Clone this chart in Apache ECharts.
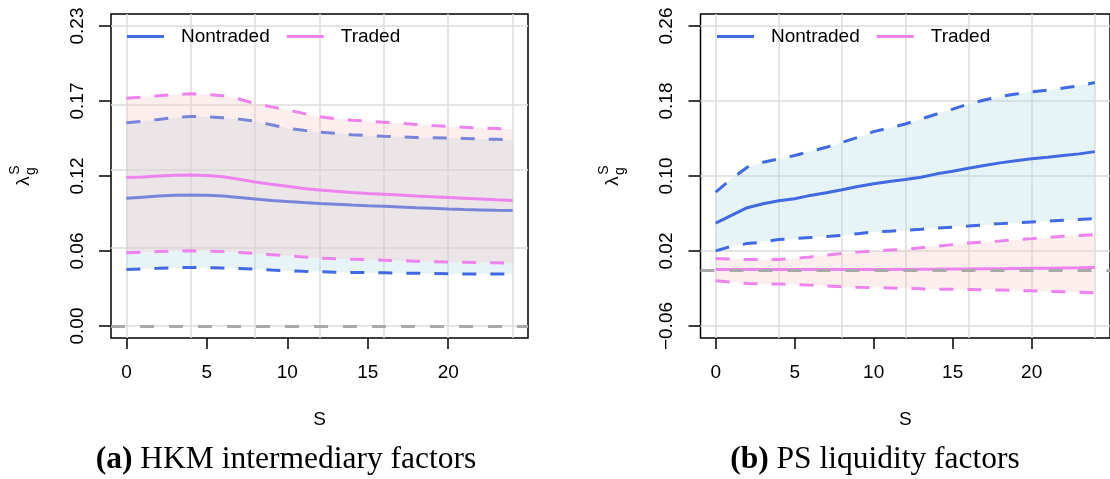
<!DOCTYPE html>
<html>
<head>
<meta charset="utf-8">
<title>lambda_g^S by horizon</title>
<script src="https://cdn.jsdelivr.net/npm/echarts@6.0.0/dist/echarts.min.js"></script>
<style>
  html, body { margin: 0; padding: 0; background: #fff; }
  #main { width: 1110px; height: 479px; }
</style>
</head>
<body>
<div id="main"></div>
<script>
// horizon S
var horizon = [0, 1, 2, 3, 4, 5, 6, 7, 8, 9, 10, 11, 12, 13, 14, 15, 16, 17, 18, 19, 20, 21, 22, 23, 24];

// (a) HKM intermediary factors
var hkmNontradedMid = [0.0979, 0.0988, 0.0996, 0.1002, 0.1005, 0.1003, 0.0996, 0.0985, 0.0974, 0.0963, 0.0954, 0.0946, 0.0939, 0.0933, 0.0927, 0.0922, 0.0918, 0.0913, 0.0907, 0.0902, 0.0897, 0.0893, 0.0890, 0.0887, 0.0885];
var hkmNontradedUp = [0.1558, 0.1570, 0.1584, 0.1598, 0.1607, 0.1604, 0.1597, 0.1586, 0.1571, 0.1543, 0.1517, 0.1500, 0.1487, 0.1477, 0.1467, 0.1460, 0.1454, 0.1450, 0.1446, 0.1443, 0.1441, 0.1438, 0.1434, 0.1431, 0.1428];
var hkmNontradedLow = [0.0434, 0.0438, 0.0442, 0.0447, 0.0449, 0.0447, 0.0444, 0.0440, 0.0436, 0.0429, 0.0423, 0.0419, 0.0416, 0.0413, 0.0411, 0.0409, 0.0408, 0.0406, 0.0404, 0.0402, 0.0400, 0.0399, 0.0399, 0.0398, 0.0398];
var hkmTradedMid = [0.1138, 0.1143, 0.1150, 0.1156, 0.1158, 0.1154, 0.1145, 0.1125, 0.1104, 0.1087, 0.1071, 0.1055, 0.1043, 0.1033, 0.1024, 0.1016, 0.1010, 0.1004, 0.0997, 0.0991, 0.0985, 0.0979, 0.0973, 0.0967, 0.0962];
var hkmTradedUp = [0.1747, 0.1755, 0.1765, 0.1775, 0.1780, 0.1776, 0.1765, 0.1740, 0.1706, 0.1680, 0.1658, 0.1630, 0.1605, 0.1590, 0.1578, 0.1570, 0.1563, 0.1555, 0.1545, 0.1537, 0.1530, 0.1524, 0.1518, 0.1514, 0.1510];
var hkmTradedLow = [0.0561, 0.0566, 0.0571, 0.0575, 0.0576, 0.0574, 0.0571, 0.0564, 0.0556, 0.0547, 0.0538, 0.0529, 0.0520, 0.0516, 0.0512, 0.0508, 0.0505, 0.0501, 0.0497, 0.0494, 0.0490, 0.0488, 0.0486, 0.0484, 0.0482];

// (b) PS liquidity factors
var psNontradedMid = [0.0498, 0.0580, 0.0662, 0.0704, 0.0736, 0.0758, 0.0793, 0.0821, 0.0853, 0.0888, 0.0917, 0.0942, 0.0963, 0.0987, 0.1023, 0.1051, 0.1083, 0.1112, 0.1140, 0.1162, 0.1183, 0.1200, 0.1218, 0.1236, 0.1260];
var psNontradedUp = [0.0828, 0.0970, 0.1094, 0.1147, 0.1183, 0.1218, 0.1264, 0.1306, 0.1359, 0.1413, 0.1473, 0.1512, 0.1555, 0.1608, 0.1661, 0.1714, 0.1768, 0.1810, 0.1849, 0.1874, 0.1898, 0.1916, 0.1938, 0.1962, 0.1997];
var psNontradedLow = [0.0201, 0.0250, 0.0279, 0.0296, 0.0322, 0.0333, 0.0343, 0.0355, 0.0367, 0.0385, 0.0402, 0.0411, 0.0420, 0.0432, 0.0445, 0.0455, 0.0466, 0.0479, 0.0492, 0.0500, 0.0509, 0.0518, 0.0527, 0.0536, 0.0545];
var psTradedMid = [0.0003, 0.0002, 0.0002, 0.0002, 0.0002, 0.0002, 0.0002, 0.0002, 0.0002, 0.0003, 0.0003, 0.0003, 0.0004, 0.0005, 0.0006, 0.0007, 0.0008, 0.0010, 0.0011, 0.0013, 0.0015, 0.0017, 0.0019, 0.0021, 0.0024];
var psTradedUp = [0.0120, 0.0114, 0.0109, 0.0108, 0.0109, 0.0122, 0.0137, 0.0155, 0.0173, 0.0188, 0.0201, 0.0210, 0.0219, 0.0235, 0.0250, 0.0268, 0.0286, 0.0296, 0.0307, 0.0320, 0.0332, 0.0345, 0.0357, 0.0366, 0.0375];
var psTradedLow = [-0.0118, -0.0133, -0.0146, -0.0150, -0.0153, -0.0158, -0.0164, -0.0173, -0.0182, -0.0186, -0.0189, -0.0194, -0.0199, -0.0203, -0.0207, -0.0209, -0.0210, -0.0214, -0.0217, -0.0221, -0.0225, -0.0230, -0.0235, -0.0240, -0.0246];

// ticks / labels
var xTicks = [0, 5, 10, 15, 20];
var gridX = [0, 4, 8, 12, 16, 20, 24];
var hkmYTicks = [0, 0.0575, 0.115, 0.1725, 0.23];
var hkmYLabels = ['0.00', '0.06', '0.12', '0.17', '0.23'];
var psYTicks = [-0.06, 0.02, 0.10, 0.18, 0.26];
var psYLabels = ['\u22120.06', '0.02', '0.10', '0.18', '0.26'];

var BLUE = '#4169E1';
var PINK = '#EE82EE';
var FONT = 'Liberation Sans, Arial, sans-serif';
var SERIF = 'Liberation Serif, Times New Roman, serif';

function pairs(arr) {
	return horizon.map(function (x, i) { return [x, arr[i]]; });
}

// shaded band between low and up, one polygon through the axes' scales
function band(k, low, up, color, z) {
	return {
		type: 'custom', xAxisIndex: k, yAxisIndex: k, silent: true, clip: true, z: z,
		data: horizon.map(function (x, i) { return [x, low[i], up[i]]; }),
		encode: { x: 0, y: [1, 2] },
		renderItem: function (params, api) {
			if (params.dataIndexInside !== 0) return null;
			var n = params.dataInsideLength;
			var pts = [];
			for (var i = 0; i < n; i++) pts.push(api.coord([api.value(0, i), api.value(2, i)]));
			for (var j = n - 1; j >= 0; j--) pts.push(api.coord([api.value(0, j), api.value(1, j)]));
			return { type: 'polygon', shape: { points: pts }, style: { fill: color } };
		}
	};
}

function line(k, name, arr, color, dashed, z) {
	return {
		name: name, type: 'line', xAxisIndex: k, yAxisIndex: k, data: pairs(arr), z: z,
		symbol: 'none', showSymbol: false, silent: true,
		itemStyle: { color: color },
		lineStyle: { color: color, width: 3, type: dashed ? [14, 14] : 'solid' }
	};
}

// one panel: bands, lines, grid lines, zero line
function panelSeries(k, nt, tr, yTicks) {
	var gridLines = gridX.map(function (v) { return { xAxis: v }; })
		.concat(yTicks.map(function (v) { return { yAxis: v }; }));
	var ntUp = line(k, 'nt_up' + k, nt.up, BLUE, true, 3);
	ntUp.markLine = {
		silent: true, symbol: ['none', 'none'], z: 1, label: { show: false },
		lineStyle: { color: '#dcdcdc', width: 1.5, type: 'solid' }, emphasis: { disabled: true },
		data: gridLines
	};
	var trLow = line(k, 'tr_low' + k, tr.low, PINK, true, 5);
	trLow.markLine = {
		silent: true, symbol: ['none', 'none'], z: 6, label: { show: false },
		lineStyle: { color: '#a9a9a9', width: 3, type: [14, 15] }, emphasis: { disabled: true },
		data: [{ yAxis: 0 }]
	};
	return [
		band(k, nt.low, nt.up, 'rgba(173,216,230,0.3)', 2),
		ntUp,
		line(k, 'Nontraded', nt.mid, BLUE, false, 3),
		line(k, 'nt_low' + k, nt.low, BLUE, true, 3),
		band(k, tr.low, tr.up, 'rgba(250,200,200,0.3)', 4),
		line(k, 'tr_up' + k, tr.up, PINK, true, 5),
		line(k, 'Traded', tr.mid, PINK, false, 5),
		trLow
	];
}

function xAxisOf(k) {
	return {
		type: 'value', gridIndex: k, min: -0.96, max: 24.96,
		name: 'S', nameLocation: 'middle', nameGap: 72,
		nameTextStyle: { fontSize: 19, fontFamily: FONT, color: '#000' },
		axisLine: { show: false, onZero: false },
		axisTick: { show: true, length: 11, customValues: xTicks, lineStyle: { color: '#000', width: 1.5 } },
		axisLabel: { customValues: xTicks, fontSize: 19, fontFamily: FONT, color: '#000', margin: 25 },
		splitLine: { show: false }
	};
}
function yAxisOf(k, lo, hi, ticks, labels) {
	return {
		type: 'value', gridIndex: k, min: lo, max: hi,
		axisLine: { show: false, onZero: false },
		axisTick: { show: true, length: 12, customValues: ticks, lineStyle: { color: '#000', width: 1.5 } },
		axisLabel: {
			customValues: ticks, rotate: 90, fontSize: 19, fontFamily: FONT, color: '#000', margin: 24,
			formatter: function (v) {
				for (var i = 0; i < ticks.length; i++) {
					if (Math.abs(ticks[i] - v) < 1e-9) return labels[i];
				}
				return '';
			}
		},
		splitLine: { show: false }
	};
}

function lambdaLabel(x, y) {
	return {
		type: 'group', x: x, y: y, rotation: Math.PI / 2, silent: true,
		children: [
			{ type: 'text', x: 0, y: 0, style: { text: '\u03bb', fontSize: 19, fontFamily: FONT, fill: '#000', align: 'center', verticalAlign: 'middle' } },
			{ type: 'text', x: 11, y: -9, style: { text: 'S', fontSize: 14, fontFamily: FONT, fill: '#000', align: 'center', verticalAlign: 'middle' } },
			{ type: 'text', x: 10, y: 7, style: { text: 'g', fontSize: 14, fontFamily: FONT, fill: '#000', align: 'center', verticalAlign: 'middle' } }
		]
	};
}
function caption(x, tag, text) {
	return {
		type: 'text', x: x, y: 460, silent: true,
		style: {
			text: '{b|' + tag + '} ' + text, align: 'center', verticalAlign: 'middle',
			fontSize: 31.5, fontFamily: SERIF, fill: '#000',
			rich: { b: { fontSize: 31.5, fontWeight: 'bold', fontFamily: SERIF } }
		}
	};
}

var legendBase = {
	data: ['Nontraded', 'Traded'], top: 27, padding: 0, icon: 'rect',
	itemWidth: 37, itemHeight: 3, itemGap: 17, selectedMode: false,
	textStyle: { fontSize: 19, fontFamily: FONT, color: '#000', padding: [0, 0, 0, 12] }
};

var hkm = { mid: hkmNontradedMid, up: hkmNontradedUp, low: hkmNontradedLow };
var hkmT = { mid: hkmTradedMid, up: hkmTradedUp, low: hkmTradedLow };
var ps = { mid: psNontradedMid, up: psNontradedUp, low: psNontradedLow };
var psT = { mid: psTradedMid, up: psTradedUp, low: psTradedLow };

var option = {
	animation: false,
	backgroundColor: '#fff',
	textStyle: { fontFamily: FONT },
	grid: [
		{ left: 111, top: 14, width: 417, height: 324, show: true, borderColor: '#000', borderWidth: 1.5, backgroundColor: 'transparent' },
		{ left: 700.5, top: 14, width: 416.5, height: 324, show: true, borderColor: '#000', borderWidth: 1.5, backgroundColor: 'transparent' }
	],
	legend: [
		Object.assign({}, legendBase, { left: 127 }),
		Object.assign({}, legendBase, { left: 717 })
	],
	xAxis: [xAxisOf(0), xAxisOf(1)],
	yAxis: [
		yAxisOf(0, -0.0092, 0.2392, hkmYTicks, hkmYLabels),
		yAxisOf(1, -0.0728, 0.2728, psYTicks, psYLabels)
	],
	series: panelSeries(0, hkm, hkmT, hkmYTicks).concat(panelSeries(1, ps, psT, psYTicks)),
	graphic: [
		lambdaLabel(24, 181),
		lambdaLabel(613, 181),
		caption(286, '(a)', 'HKM intermediary factors'),
		caption(875, '(b)', 'PS liquidity factors')
	]
};

var myChart = echarts.init(document.getElementById('main'));
myChart.setOption(option);
</script>
</body>
</html>
